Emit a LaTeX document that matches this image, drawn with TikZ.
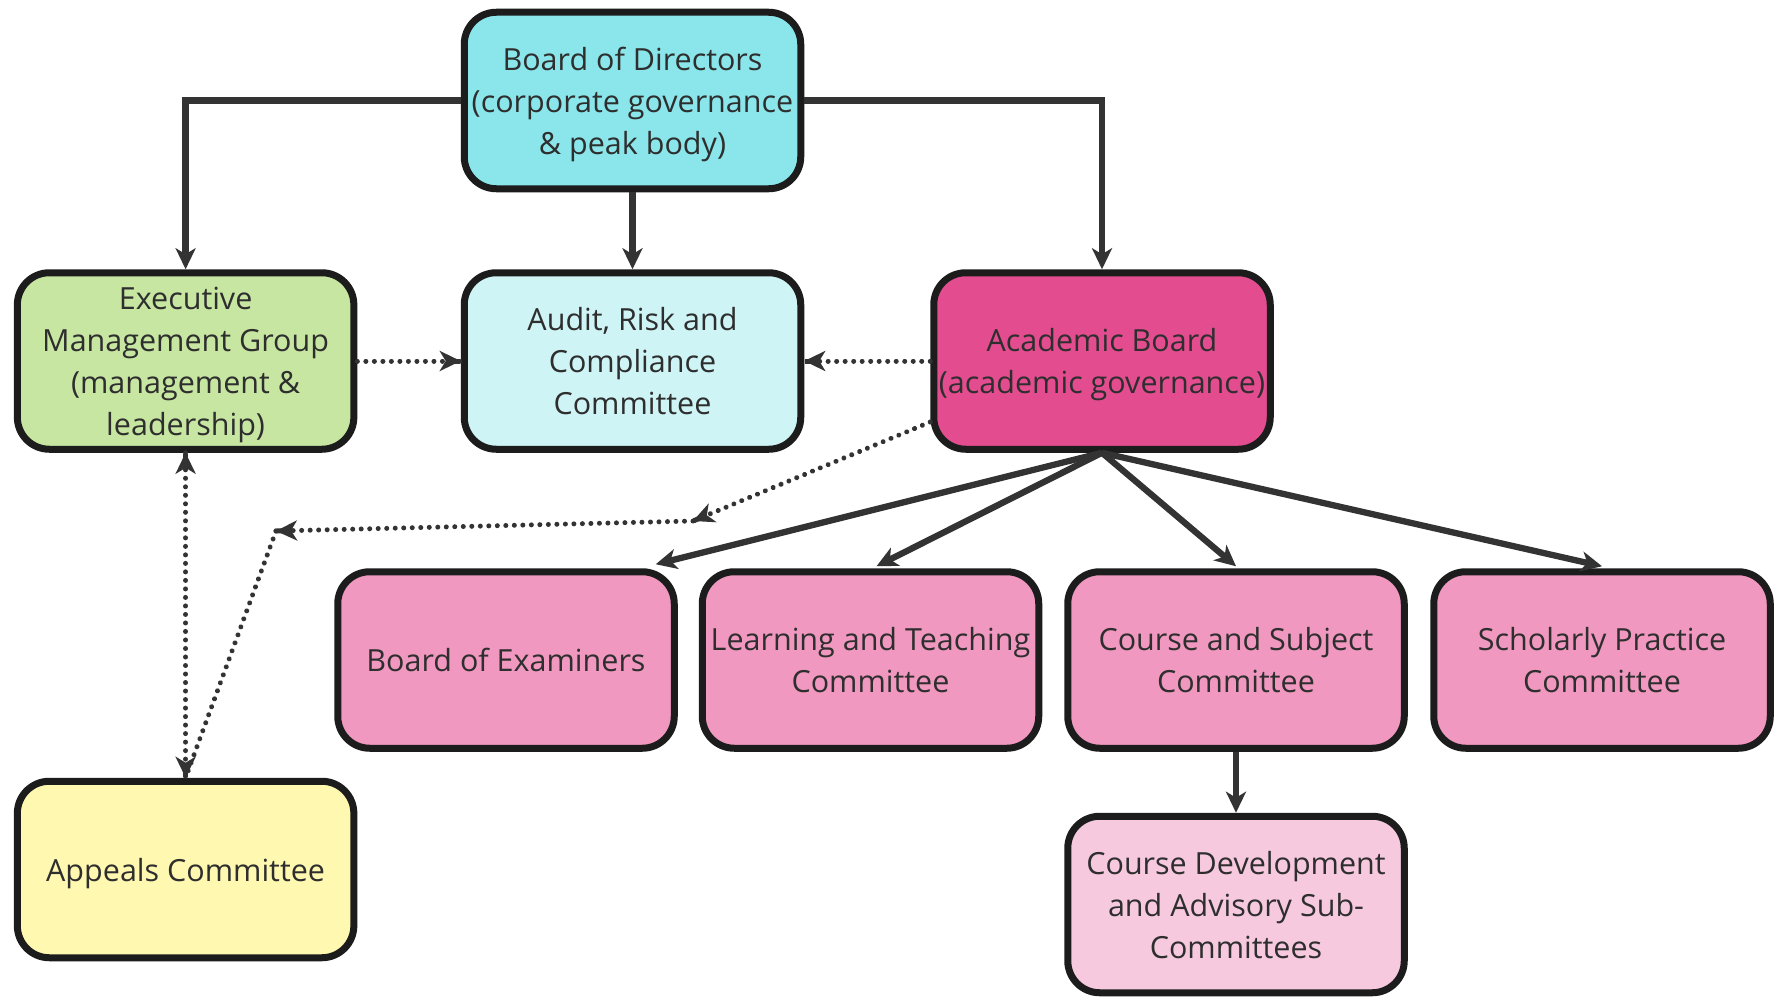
\documentclass[tikz,border=0pt]{standalone}
\usepackage{fontspec}
\setmainfont{Open Sans}
\usetikzlibrary{arrows.meta,calc}
\definecolor{bodfill}{HTML}{8AE6EA}
\definecolor{execfill}{HTML}{C7E6A2}
\definecolor{auditfill}{HTML}{CEF4F5}
\definecolor{acadfill}{HTML}{E34D8F}
\definecolor{comfill}{HTML}{F098BF}
\definecolor{devfill}{HTML}{F6C9DF}
\definecolor{appfill}{HTML}{FFF8B0}
\definecolor{boxline}{HTML}{1C1C1C}
\definecolor{arr}{HTML}{333333}
\definecolor{txt}{HTML}{2E2E2E}
\begin{document}
\begin{tikzpicture}[x=1pt,y=-1pt,
  box/.style={draw=boxline, line width=7pt, rounded corners=32pt,
    minimum width=336.5pt, minimum height=176.5pt, align=center, text=txt,
    font=\fontsize{30.5}{42}\selectfont, inner sep=1pt, text depth=0pt},
  tip/.style={-{Stealth[length=21pt,width=20pt,inset=6pt]}},
  conn/.style={draw=arr, line width=6.3pt, tip},
  dotc/.style={draw=arr, line width=5pt, line cap=round,
    dash pattern=on 0.01pt off 8.5pt},
  dtip/.style={draw=arr, line width=5pt, tip}]
\useasboundingbox (0,0) rectangle (1775,998);
\fill[white] (0,0) rectangle (1775,998);

\node[box, fill=bodfill] (bod) at (632.5,100.5) {Board of Directors\\(corporate governance\\\& peak body)};
\node[box, fill=execfill] (exec) at (185.6,361) {Executive\\Management Group\\(management \&\\leadership)};
\node[box, fill=auditfill] (audit) at (632.5,361) {Audit, Risk and\\Compliance\\Committee};
\node[box, fill=acadfill] (acad) at (1102,361) {Academic Board\\(academic governance)};
\node[box, fill=comfill] (boe) at (506,660) {Board of Examiners};
\node[box, fill=comfill] (lt) at (870.5,660) {Learning and Teaching\\Committee};
\node[box, fill=comfill] (cs) at (1236,660) {Course and Subject\\Committee};
\node[box, fill=comfill] (sp) at (1602,660) {Scholarly Practice\\Committee};
\node[box, fill=appfill] (app) at (185.6,869.5) {Appeals Committee};
\node[box, fill=devfill] (dev) at (1236,904.5) {Course Development\\and Advisory Sub-\\Committees};

% solid connectors
\draw[conn] (bod.west) -| (exec.north);
\draw[conn] (bod.south) -- (audit.north);
\draw[conn] (bod.east) -| (acad.north);
\draw[conn] (acad.south) -- ($(boe.north east)+(-22,-4)$);
\draw[conn] (acad.south) -- ($(lt.north)+(6,-2)$);
\draw[conn] (acad.south) -- ($(cs.north)+(0,-2)$);
\draw[conn] (acad.south) -- ($(sp.north)+(0,-2)$);
\draw[conn] (cs.south) -- (dev.north);

% dotted connectors
\coordinate (acadpt) at ($(acad.west)+(0,61)$);
\coordinate (wpA) at (693,521);
\coordinate (wpB) at (276,531);
\draw[dotc] (exec.east) -- (audit.west);
\draw[dtip] ($(audit.west)+(-1,0)$) -- (audit.west);
\draw[dotc] (acad.west) -- (audit.east);
\draw[dtip] ($(audit.east)+(1,0)$) -- (audit.east);
\draw[dotc] (acadpt) -- (wpA);
\draw[dtip] ($(wpA)!1pt!(acadpt)$) -- (wpA);
\draw[dotc] (wpA) -- (wpB);
\draw[dtip] ($(wpB)!1pt!(wpA)$) -- (wpB);
\draw[dotc] (wpB) -- (app.north);
\draw[dotc] (exec.south) -- (app.north);
\draw[dtip] ($(app.north)+(0,-1)$) -- (app.north);
\draw[dtip] ($(exec.south)+(0,1)$) -- (exec.south);
\end{tikzpicture}
\end{document}
